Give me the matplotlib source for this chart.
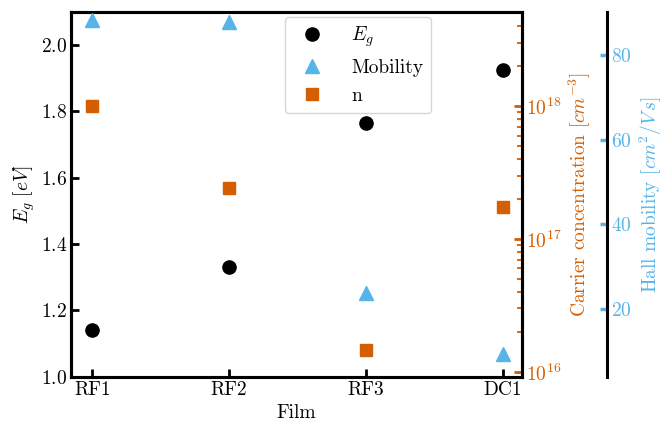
import matplotlib
matplotlib.use("Agg")
import matplotlib.pyplot as plt
import numpy as np

plt.rcParams['font.family'] = 'serif'
plt.rcParams['font.serif'] = ['cmr10']
plt.rcParams['mathtext.fontset'] = 'cm'
plt.rcParams['axes.formatter.use_mathtext'] = True
plt.rcParams['font.size'] = 14

# data
films = ['RF1', 'RF2', 'RF3', 'DC1']
eg = [1.14, 1.33, 1.765, 1.925]
mobility = [88.4, 87.8, 23.7, 9.4]
carrier = [1.0e18, 2.42e17, 1.46e16, 1.73e17]

orange = '#D55E00'
blue = '#56B4E9'

fig = plt.figure(figsize=(6.72, 4.25), dpi=100)
ax = fig.add_axes([0.1057, 0.1136, 0.6706, 0.8582])
x = np.arange(len(films))

p1, = ax.plot(x, eg, 'o', color='k', ms=9.5, label='$E_g$')
ax.set_xlim(-0.155, 3.14)
ax.set_ylim(1.0, 2.1)
ax.set_xticks(x)
ax.set_xticklabels(films)
ax.set_yticks([1.0, 1.2, 1.4, 1.6, 1.8, 2.0])
ax.set_xlabel('Film')
ax.xaxis.set_label_coords(0.5, -0.075)
ax.set_ylabel(r'$E_g\ [eV]$')
ax.yaxis.set_label_coords(-0.076, 0.5)
ax.tick_params(direction='in', length=6, width=2, pad=3)

# carrier concentration, log scale
ax2 = ax.twinx()
p3, = ax2.plot(x, carrier, 's', color=orange, ms=8.5, label='n')
ax2.set_yscale('log')
ax2.set_ylim(9.2e15, 5.1e18)
ax2.set_ylabel(r'Carrier concentration $[cm^{-3}]$', color=orange)
ax2.tick_params(axis='y', which='major', direction='in', length=6, width=2, colors=orange, pad=3)
ax2.tick_params(axis='y', which='minor', direction='in', length=3.5, width=1.3, colors=orange)

# hall mobility, offset spine
ax3 = ax.twinx()
ax3.spines['right'].set_position(('axes', 1.19))
p2, = ax3.plot(x, mobility, '^', color=blue, ms=9.5, label='Mobility')
ax3.set_ylim(4.0, 90.2)
ax3.set_yticks([20, 40, 60, 80])
ax3.set_ylabel(r'Hall mobility $[cm^2/V\,s]$', color=blue)
ax3.tick_params(axis='y', direction='in', length=5, width=2.5, colors=blue, pad=3)

for a in (ax, ax2, ax3):
    for s in a.spines.values():
        s.set_linewidth(2.2)
        s.set_color('k')
for s in ('left', 'top', 'bottom'):
    ax3.spines[s].set_visible(False)

ax.legend(handles=[p1, p2, p3], loc='upper left', bbox_to_anchor=(0.475, 0.986),
          borderaxespad=0, fontsize=14, handletextpad=1.0)

fig.savefig('out.png', dpi=100)
